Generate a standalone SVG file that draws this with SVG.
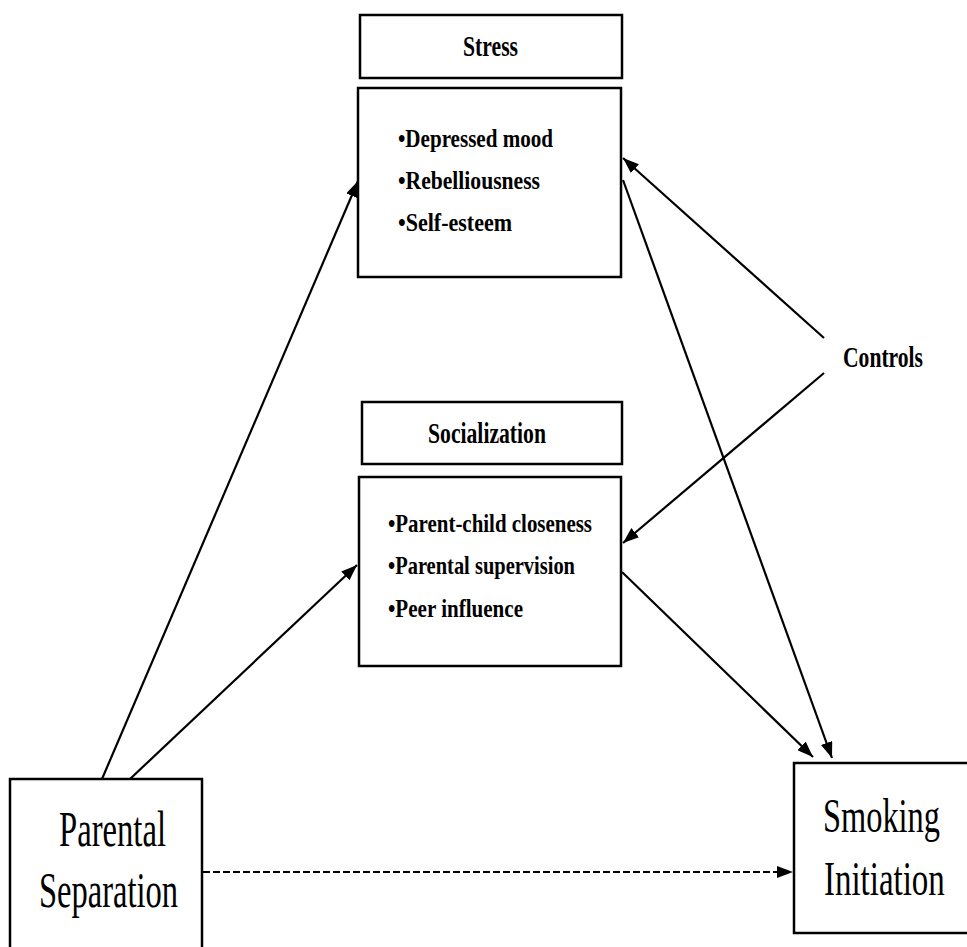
<svg xmlns="http://www.w3.org/2000/svg" width="967" height="947" viewBox="0 0 967 947">
<defs>
<style>
.box{fill:#fff;stroke:#000;stroke-width:2.5}
.hd{font-family:"Liberation Serif","Times New Roman",serif;font-weight:bold;fill:#000}
.bl{font-family:"Liberation Serif","Times New Roman",serif;font-weight:bold;font-size:26px;fill:#000}
.big{font-family:"Liberation Serif","Times New Roman",serif;fill:#000}
.ln{stroke:#000;stroke-width:2.2;fill:none}
</style>
<marker id="ah" markerUnits="userSpaceOnUse" markerWidth="17" markerHeight="12" refX="16" refY="6" orient="auto">
<path d="M0,0 L16,6 L0,12 Z" fill="#000"/>
</marker>
</defs>
<rect width="967" height="947" fill="#fff"/>
<g id="connectors">
<line class="ln" x1="102" y1="779" x2="358" y2="181" marker-end="url(#ah)"/>
<line class="ln" x1="130" y1="779" x2="357" y2="565" marker-end="url(#ah)"/>
<line class="ln" x1="824" y1="338" x2="623" y2="158" marker-end="url(#ah)"/>
<line class="ln" x1="824" y1="373" x2="623" y2="543" marker-end="url(#ah)"/>
<line class="ln" x1="623" y1="180" x2="832" y2="758" marker-end="url(#ah)"/>
<line class="ln" x1="622" y1="572" x2="813" y2="757" marker-end="url(#ah)"/>
<line class="ln" x1="203" y1="872" x2="793" y2="872" stroke-dasharray="7 3" marker-end="url(#ah)"/>
</g>
<g id="stress-label">
<rect class="box" x="360" y="15" width="262" height="63"/>
<text class="hd" x="463" y="56" font-size="29" textLength="55" lengthAdjust="spacingAndGlyphs">Stress</text>
</g>
<g id="stress">
<rect class="box" x="358" y="88" width="263" height="189"/>
<text class="bl" x="398" y="147" textLength="155" lengthAdjust="spacingAndGlyphs">•Depressed mood</text>
<text class="bl" x="398" y="189" textLength="142" lengthAdjust="spacingAndGlyphs">•Rebelliousness</text>
<text class="bl" x="398" y="231" textLength="114" lengthAdjust="spacingAndGlyphs">•Self-esteem</text>
</g>
<g id="socialization-label">
<rect class="box" x="362" y="402" width="260" height="62"/>
<text class="hd" x="428" y="443" font-size="29" textLength="118" lengthAdjust="spacingAndGlyphs">Socialization</text>
</g>
<g id="socialization">
<rect class="box" x="359" y="477" width="262" height="189"/>
<text class="bl" x="388" y="532" textLength="204" lengthAdjust="spacingAndGlyphs">•Parent-child closeness</text>
<text class="bl" x="388" y="574" textLength="187" lengthAdjust="spacingAndGlyphs">•Parental supervision</text>
<text class="bl" x="388" y="617" textLength="135" lengthAdjust="spacingAndGlyphs">•Peer influence</text>
</g>
<g id="controls">
<text class="hd" x="843" y="367" font-size="30" textLength="80" lengthAdjust="spacingAndGlyphs">Controls</text>
</g>
<g id="parental-separation">
<rect class="box" x="10" y="779" width="192" height="172"/>
<text class="big" x="59" y="846" font-size="50" textLength="107" lengthAdjust="spacingAndGlyphs">Parental</text>
<text class="big" x="39" y="907" font-size="50" textLength="139" lengthAdjust="spacingAndGlyphs">Separation</text>
</g>
<g id="smoking-initiation">
<rect class="box" x="794" y="763" width="177" height="170"/>
<text class="big" transform="translate(823,832) scale(0.675,1)" x="0" y="0" font-size="48">Smoking</text>
<text class="big" transform="translate(824,895) scale(0.687,1)" x="0" y="0" font-size="48">Initiation</text>
</g>
</svg>
